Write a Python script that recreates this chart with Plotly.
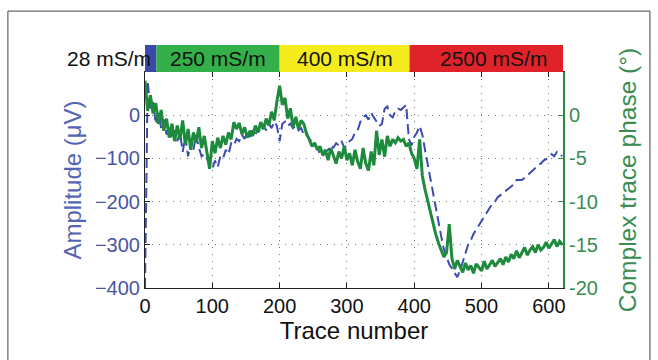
import plotly.graph_objects as go

# Trace numbers sampled every 4 traces along the profile
trace_no = list(range(0, 621, 4))

# Reflection amplitude (left axis, microvolts)
amplitude_uV = [
    -400, 80, 10, 30, -20, 5, -30, -10, -45, -25,
    -55, -35, -60, -40, -85, -50, -95, -60, -80, -45,
    -75, -95, -90, -100, -115, -125, -105, -120, -95, -100,
    -80, -90, -65, -70, -55, -60, -45, -55, -40, -50,
    -35, -45, -30, -40, -25, -35, -20, -30, -15, -25,
    -60, -20, -15, -25, -20, -30, -25, -35, -30, -45,
    -40, -55, -60, -70, -75, -90, -95, -85, -80, -70,
    -75, -65, -70, -60, -75, -70, -60, -55, -40, -35,
    -15, -5, 0, -10, 5, -5, -15, -25, -20, 15,
    20, 0, -5, 10, 15, 12, 18, 24, -55, -70,
    -50, -40, -25, -45, -80, -115, -150, -185, -210, -245,
    -280, -310, -330, -345, -355, -365, -375, -360, -340, -320,
    -300, -290, -275, -265, -255, -245, -235, -225, -215, -205,
    -200, -190, -185, -180, -175, -170, -165, -160, -150, -150,
    -150, -145, -140, -135, -128, -122, -115, -112, -105, -102,
    -95, -90, -95, -85, -90, -95,
]

# Complex trace phase (right axis, degrees)
phase_deg = [
    4.0, 0.5, 2.3, 0.2, 1.4, -1.0, 0.6, -1.8, -0.4, -2.6,
    -1.0, -3.0, -1.2, -2.8, -0.6, -3.4, -1.6, -4.0, -2.0, -3.2,
    -1.4, -3.8, -2.4, -4.6, -6.2, -3.0, -4.4, -2.6, -3.8, -2.4,
    -3.4, -2.0, -2.8, -0.8, -1.6, -0.9, -2.2, -1.4, -2.6, -1.8,
    -2.4, -1.2, -2.0, -0.8, -1.6, -0.4, -1.2, 0.4, -0.6, 1.6,
    3.4, 1.2, 2.0, -0.4, 0.8, -1.4, -0.2, -1.6, -0.6, -1.0,
    -2.2, -2.8, -3.6, -3.2, -4.0, -3.6, -4.6, -4.0, -5.2, -3.8,
    -4.8, -5.6, -4.2, -5.0, -3.6, -5.2, -4.4, -5.8, -4.0, -5.4,
    -6.2, -3.8, -5.6, -6.4, -4.2, -5.8, -1.8, -4.6, -2.8, -4.8,
    -2.4, -3.6, -2.8, -3.2, -2.6, -3.0, -2.8, -3.6, -3.2, -4.4,
    -5.0, -6.2, -2.8, -7.0, -8.6, -10.0, -11.4, -12.6, -13.8, -14.8,
    -15.6, -16.4, -15.9, -12.6, -16.6, -17.8, -16.8, -17.5, -18.2, -17.1,
    -17.9, -17.4, -18.3, -17.2, -17.6, -18.0, -16.9, -17.8, -17.3, -16.8,
    -17.5, -17.0, -16.6, -17.3, -16.4, -17.0, -16.1, -16.6, -15.7, -16.5,
    -15.9, -15.3, -16.2, -15.6, -15.2, -15.9, -15.0, -15.6, -15.3, -14.7,
    -15.4, -14.9, -14.4, -15.2, -14.6, -15.0,
]

# Conductivity zones along the profile (trace-number boundaries)
zone_edges = [0, 17, 200, 393, 621]
zone_labels = ["28 mS/m", "250 mS/m", "400 mS/m", "2500 mS/m"]
zone_colors = ["#3a4aa8", "#34b04a", "#f4ec1c", "#e0232a"]

amp_ticks = [-400, -300, -200, -100, 0]
phase_ticks = [-20, -15, -10, -5, 0]

FONT = "Liberation Sans, Arial, sans-serif"
BLUE_TXT = "#4a55a5"
GREEN_TXT = "#3a8c52"

fig = go.Figure()
fig.add_trace(go.Scatter(
    x=trace_no, y=amplitude_uV, mode="lines", yaxis="y",
    line=dict(color="#3b4bb2", width=2, dash="10px,5px"),
    showlegend=False,
))
fig.add_trace(go.Scatter(
    x=trace_no, y=phase_deg, mode="lines", yaxis="y2",
    line=dict(color="#1e8a3c", width=3),
    showlegend=False,
))

# Coloured conductivity bar above the axes
shapes = []
annotations = []
for i, lab in enumerate(zone_labels):
    x0, x1 = zone_edges[i], zone_edges[i + 1]
    shapes.append(dict(type="rect", xref="x", yref="paper",
                       x0=x0, x1=x1, y0=1.0, y1=1.125,
                       fillcolor=zone_colors[i], line=dict(width=0), layer="above"))
    if i == 0:
        annotations.append(dict(x=12, y=1.0625, xref="x", yref="paper",
                                xanchor="right", yanchor="middle", showarrow=False,
                                text=lab, font=dict(family=FONT, size=21, color="#111")))
    else:
        cx = (x0 + x1) / 2 + (10 if i == 3 else 0)
        annotations.append(dict(x=cx, y=1.0625, xref="x", yref="paper",
                                xanchor="center", yanchor="middle", showarrow=False,
                                text=lab, font=dict(family=FONT, size=21, color="#111")))

# Outer figure frame
shapes.append(dict(type="rect", xref="paper", yref="paper",
                   x0=-0.328, x1=1.208, y0=-0.38, y1=1.282,
                   line=dict(color="#444", width=1), layer="below"))

grid_dash = "1px,6px"
fig.update_layout(
    width=658, height=360,
    margin=dict(l=145, r=95, t=72, b=72),
    paper_bgcolor="white", plot_bgcolor="white",
    font=dict(family=FONT),
    shapes=shapes, annotations=annotations,
    xaxis=dict(
        range=[0, 621], tickvals=[0, 100, 200, 300, 400, 500, 600],
        ticks="inside", ticklen=5, tickcolor="#222",
        showline=True, linecolor="#222", linewidth=1, mirror="ticks",
        showgrid=True, gridcolor="#777", gridwidth=1, griddash=grid_dash,
        zeroline=False,
        tickfont=dict(size=20, color="#111"),
        title=dict(text="Trace number", font=dict(size=24, color="#111"), standoff=4),
    ),
    yaxis=dict(
        range=[-400, 100], tickvals=amp_ticks,
        ticktext=["\u2212400", "\u2212300", "\u2212200", "\u2212100", "0"],
        ticks="inside", ticklen=5, tickcolor="#222",
        showline=True, linecolor="#222", linewidth=1,
        showgrid=True, gridcolor="#777", gridwidth=1, griddash=grid_dash,
        zeroline=False,
        tickfont=dict(size=20, color=BLUE_TXT),
        title=dict(text="Amplitude (\u03bcV)", font=dict(size=24, color="#5565b5"), standoff=6),
    ),
    yaxis2=dict(
        range=[-20, 5], tickvals=phase_ticks,
        ticktext=["-20", "-15", "-10", "-5", "0"],
        overlaying="y", side="right",
        ticks="inside", ticklen=5, tickcolor="#2a8a45",
        showline=True, linecolor="#2a8a45", linewidth=2,
        showgrid=False, zeroline=False,
        tickfont=dict(size=20, color=GREEN_TXT),
        title=dict(text="Complex trace phase (\u00b0)", font=dict(size=24.5, color=GREEN_TXT), standoff=22),
    ),
)

fig.write_html("out.html")
